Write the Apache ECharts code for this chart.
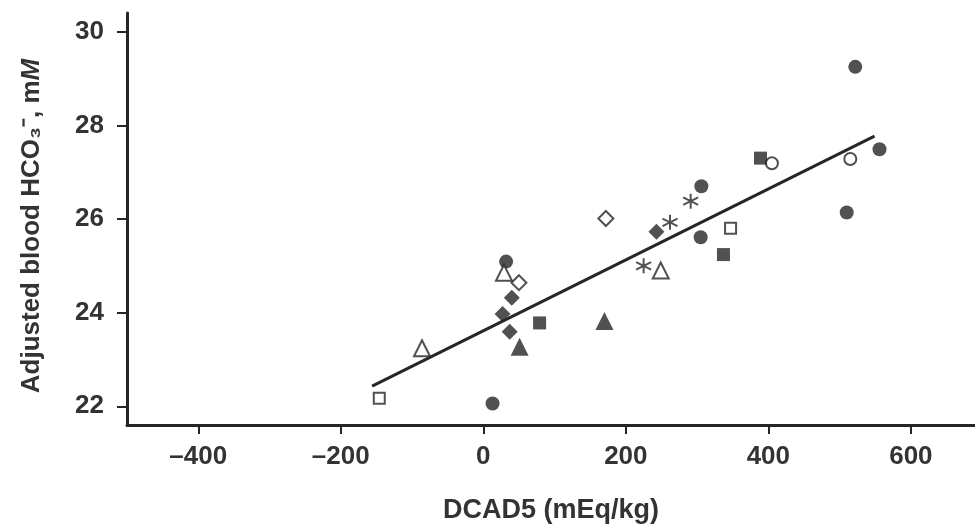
<!DOCTYPE html>
<html>
<head>
<meta charset="utf-8">
<script src="https://cdn.jsdelivr.net/npm/echarts@6/dist/echarts.min.js"></script>
<style>
  html, body { margin: 0; padding: 0; background: #fff; }
  #main { width: 975px; height: 525px; }
</style>
</head>
<body>
<div id="main"></div>
<script>
// points: [DCAD5, adjusted HCO3]
const filledCircles = [[522, 29.25], [556, 27.49], [510, 26.14], [305, 25.61], [306, 26.70], [32, 25.09], [13, 22.06]];
const openCircles = [[405, 27.19], [515, 27.28]];
const filledSquares = [[389, 27.30], [337, 25.24], [79, 23.78]];
const openSquares = [[347, 25.80], [-146, 22.17]];
const filledDiamonds = [[243, 25.73], [40, 24.32], [27, 23.97], [37, 23.59]];
const openDiamonds = [[172, 26.01], [50, 24.64]];
const filledTriangles = [[51, 23.27], [170, 23.82]];
const openTriangles = [[29, 24.85], [249, 24.90], [-86, 23.24]];
const asterisks = [[291, 26.38], [262, 25.93], [225, 25.00]];
// regression line ends
const fitLine = [[-156, 22.43], [549, 27.77]];

const xTicks = [-400, -200, 0, 200, 400, 600];
const yTicks = [22, 24, 26, 28, 30];

var ink = '#262626';
var asteriskPath = 'path://M0,-10L0,10M-8.66,-5L8.66,5M-8.66,5L8.66,-5';

function filled(data, symbol, size) {
  return {
    type: 'scatter', data: data, symbol: symbol, symbolSize: size, z: 3,
    itemStyle: { color: ink }
  };
}
function hollow(data, symbol, size) {
  return {
    type: 'scatter', data: data, symbol: symbol, symbolSize: size, z: 3,
    itemStyle: { color: '#fff', borderColor: ink, borderWidth: 2 }
  };
}

var option = {
  backgroundColor: '#fff',
  animation: false,
  grid: { left: 127, right: 0, top: 13, bottom: 100, outerBoundsMode: 'none' },
  xAxis: {
    type: 'value',
    min: -500,
    max: 690,
    name: 'DCAD5 (mEq/kg)',
    nameLocation: 'middle',
    nameGap: 72,
    nameTextStyle: {
      fontFamily: 'Liberation Sans', fontWeight: 'bold', fontSize: 27, color: '#333'
    },
    splitLine: { show: false },
    axisLine: { onZero: false, lineStyle: { color: ink, width: 3 } },
    axisTick: { customValues: xTicks, length: 9, lineStyle: { color: ink, width: 2 } },
    axisLabel: {
      customValues: xTicks, margin: 19,
      fontFamily: 'Liberation Sans', fontWeight: 'bold', fontSize: 26, color: '#333',
      formatter: function (v) { return v < 0 ? '\u2013' + Math.abs(v) : String(v); }
    }
  },
  yAxis: {
    type: 'value',
    min: 21.6,
    max: 30.4,
    name: '{t|Adjusted blood HCO\u2083\u207B, m}{i|M}',
    nameLocation: 'middle',
    nameGap: 82,
    nameTextStyle: {
      padding: [0, 14, 0, 0],
      rich: {
        t: { fontFamily: 'Liberation Sans', fontWeight: 'bold', fontSize: 26, color: '#333' },
        i: { fontFamily: 'Liberation Sans', fontWeight: 'bold', fontStyle: 'italic', fontSize: 26, color: '#333' }
      }
    },
    splitLine: { show: false },
    axisLine: { onZero: false, lineStyle: { color: ink, width: 3 } },
    axisTick: { customValues: yTicks, length: 10, lineStyle: { color: ink, width: 2 } },
    axisLabel: {
      customValues: yTicks, margin: 23,
      fontFamily: 'Liberation Sans', fontWeight: 'bold', fontSize: 26, color: '#333'
    }
  },
  series: [
    {
      type: 'line', data: fitLine, showSymbol: false, z: 2,
      lineStyle: { color: ink, width: 3 }
    },
    filled(filledCircles, 'circle', 14),
    hollow(openCircles, 'circle', 12),
    filled(filledSquares, 'rect', 13),
    hollow(openSquares, 'rect', 11),
    filled(filledDiamonds, 'diamond', 16),
    hollow(openDiamonds, 'diamond', 15),
    filled(filledTriangles, 'triangle', 18),
    hollow(openTriangles, 'triangle', 16),
    {
      type: 'scatter', data: asterisks, symbol: asteriskPath, symbolSize: 15, z: 3,
      itemStyle: { color: 'none', borderColor: ink, borderWidth: 2 }
    }
  ]
};

var chart = echarts.init(document.getElementById('main'));
chart.setOption(option);
</script>
</body>
</html>
